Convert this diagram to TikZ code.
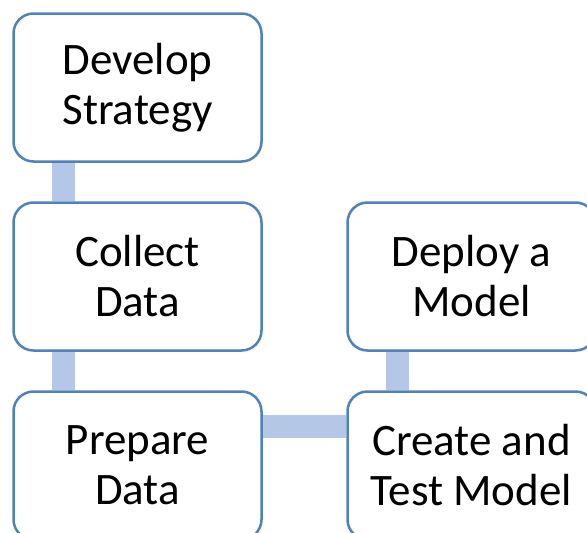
\documentclass[tikz,border=0pt]{standalone}
\usepackage{fontspec}
\setmainfont{Carlito}
\usepackage{tikz}
\usetikzlibrary{backgrounds}
\definecolor{boxblue}{RGB}{79,129,189}
\definecolor{linkblue}{RGB}{180,199,231}
\tikzset{
	stagestyle/.style={rectangle,rounded corners=20pt,draw=boxblue,line width=2.5pt,fill=white,
		minimum width=248pt,minimum height=148pt,align=center,font=\fontsize{45}{50}\selectfont},
	linkstyle/.style={draw=linkblue,line width=23pt}
}
\begin{document}
\begin{tikzpicture}[x=1pt,y=1pt]
	\useasboundingbox (0,0) rectangle (587,-533);
	\clip (0,0) rectangle (587,-533);
	\node[stagestyle] (a) at (137.5,-87.5) {Develop\\Strategy};
	\node[stagestyle] (b) at (137.5,-276.5) {Collect\\Data};
	\node[stagestyle] (c) at (137.5,-465.5) {Prepare\\Data};
	\node[stagestyle] (d) at (471.5,-276.5) {Deploy a\\Model};
	\node[stagestyle] (e) at (471.5,-465.5) {Create and\\Test Model};
	% links sit behind the boxes
	\begin{pgfonlayer}{background}
	\draw[linkstyle] ([xshift=51.5pt]a.south west) -- ([xshift=51.5pt]b.north west);
	\draw[linkstyle] ([xshift=51.5pt]b.south west) -- ([xshift=51.5pt]c.north west);
	\draw[linkstyle] ([yshift=-36pt]c.north east) -- ([yshift=-36pt]e.north west);
	\draw[linkstyle] ([xshift=51.5pt]e.north west) -- ([xshift=51.5pt]d.south west);
	\end{pgfonlayer}
\end{tikzpicture}
\end{document}
